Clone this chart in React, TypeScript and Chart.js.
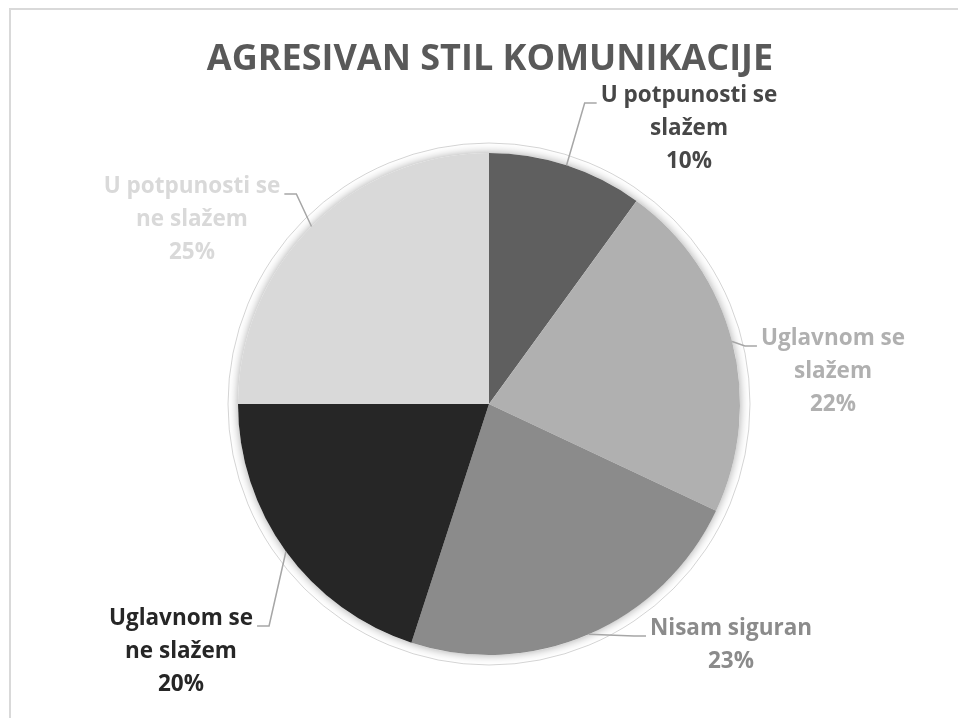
import React, { useEffect, useRef } from "react";
import { Chart, registerables } from "chart.js";

Chart.register(...registerables);

const chartTitle = "AGRESIVAN STIL KOMUNIKACIJE";
const categories = [
  "U potpunosti se slažem",
  "Uglavnom se slažem",
  "Nisam siguran",
  "Uglavnom se ne slažem",
  "U potpunosti se ne slažem",
];
const values = [10, 22, 23, 20, 25];
const labelLines = [
  ["U potpunosti se", "slažem"],
  ["Uglavnom se", "slažem"],
  ["Nisam siguran"],
  ["Uglavnom se", "ne slažem"],
  ["U potpunosti se", "ne slažem"],
];
const sliceColors = ["#5f5f5f", "#b0b0b0", "#8b8b8b", "#262626", "#d9d9d9"];
const labelColors = ["#474747", "#b0b0b0", "#8b8b8b", "#262626", "#d9d9d9"];

// label placement relative to the pie centre (px): centre x offset, first baseline offset, side of leader
const labelLayout = [
  { dx: 200, dy: -302, side: "left" },
  { dx: 344, dy: -59, side: "left" },
  { dx: 242, dy: 231, side: "left" },
  { dx: -308, dy: 221, side: "right" },
  { dx: -297, dy: -211, side: "right" },
];

const FONT = '"Open Sans", "DejaVu Sans", sans-serif';
const LABEL_SIZE = 22.5;
const LINE_H = 33;

const decorPlugin = {
  id: "decor",
  beforeDatasetsDraw(chart: any) {
    const ctx = chart.ctx;
    const arc = chart.getDatasetMeta(0).data[0];
    if (!arc) return;
    const { x, y, outerRadius } = arc.getProps(["x", "y", "outerRadius"], true);
    ctx.save();
    ctx.beginPath();
    ctx.arc(x, y, outerRadius + 10, 0, Math.PI * 2);
    ctx.strokeStyle = "rgba(0,0,0,0.22)";
    ctx.lineWidth = 0.8;
    ctx.stroke();
    ctx.beginPath();
    ctx.arc(x, y, outerRadius, 0, Math.PI * 2);
    ctx.fillStyle = "#ffffff";
    ctx.shadowColor = "rgba(0,0,0,0.35)";
    ctx.shadowBlur = 10;
    ctx.fill();
    ctx.restore();
  },
  afterDraw(chart: any) {
    const ctx = chart.ctx;
    const meta = chart.getDatasetMeta(0);
    const first = meta.data[0];
    if (!first) return;
    const { x: cx, y: cy } = first.getProps(["x", "y"], true);
    ctx.save();
    // border
    ctx.strokeStyle = "#d9d9d9";
    ctx.lineWidth = 2;
    ctx.strokeRect(10, 9, 1200, 1000);
    // title
    ctx.fillStyle = "#595959";
    ctx.font = `bold 36px ${FONT}`;
    ctx.textAlign = "center";
    ctx.textBaseline = "alphabetic";
    ctx.fillText(chartTitle, cx + 1, 70);

    const total = values.reduce((a, b) => a + b, 0);
    meta.data.forEach((el: any, i: number) => {
      const { startAngle, endAngle, outerRadius } = el.getProps(
        ["startAngle", "endAngle", "outerRadius"],
        true
      );
      const mid = (startAngle + endAngle) / 2;
      const ax = cx + Math.cos(mid) * outerRadius;
      const ay = cy + Math.sin(mid) * outerRadius;
      const lay = labelLayout[i];
      const lx = cx + lay.dx;
      const by = cy + lay.dy;
      const lines = [...labelLines[i], Math.round((values[i] / total) * 100) + "%"];
      ctx.font = `bold ${LABEL_SIZE}px ${FONT}`;
      const w = ctx.measureText(lines[0]).width;
      let ex: number, hx: number;
      if (lay.side === "left") {
        ex = lx - w / 2 - 4;
        hx = ex - 12;
      } else {
        ex = lx + w / 2 + 4;
        hx = ex + 12;
      }
      const ey = by + 1;
      ctx.beginPath();
      ctx.moveTo(ax, ay);
      ctx.lineTo(hx, ey);
      ctx.lineTo(ex, ey);
      ctx.strokeStyle = "#a6a6a6";
      ctx.lineWidth = 1.5;
      ctx.stroke();
      ctx.fillStyle = labelColors[i];
      ctx.textAlign = "center";
      lines.forEach((t, k) => ctx.fillText(t, lx, by + k * LINE_H));
    });
    ctx.restore();
  },
};

export default function App() {
  const ref = useRef<HTMLCanvasElement | null>(null);
  useEffect(() => {
    if (!ref.current) return;
    const chart = new Chart(ref.current, {
      type: "pie",
      data: {
        labels: categories,
        datasets: [
          {
            data: values,
            backgroundColor: sliceColors,
            borderWidth: 0,
          },
        ],
      },
      options: {
        animation: false,
        responsive: false,
        devicePixelRatio: 1,
        layout: { padding: { left: 238, right: 218, top: 153, bottom: 63 } },
        plugins: {
          legend: { display: false },
          title: { display: false },
          tooltip: { enabled: false },
        },
      },
      plugins: [decorPlugin],
    });
    return () => chart.destroy();
  }, []);
  return (
    <div style={{ position: "absolute", left: 0, top: 0, width: 958, height: 718, background: "#fff" }}>
      <canvas ref={ref} width={958} height={718} />
    </div>
  );
}
